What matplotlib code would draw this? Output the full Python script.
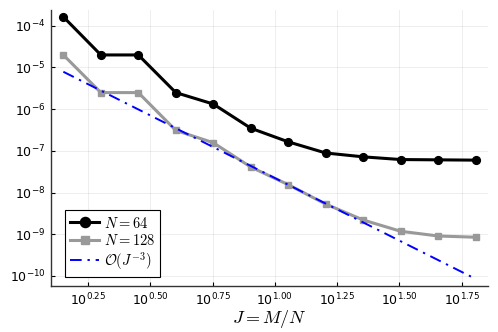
import matplotlib
matplotlib.use("Agg")
import matplotlib.pyplot as plt
import numpy as np
from matplotlib.ticker import FixedLocator, FuncFormatter, NullLocator

# J = M/N sample points
J = [1.414, 2.0, 2.828, 4.0, 5.657, 8.0, 11.31, 16.0, 22.63, 32.0, 45.25, 64.0]
err_64 = [1.64e-4, 2.0e-5, 2.0e-5, 2.5e-6, 1.33e-6, 3.5e-7, 1.65e-7, 8.9e-8,
          7.2e-8, 6.2e-8, 6.1e-8, 6.0e-8]
err_128 = [2.0e-5, 2.5e-6, 2.5e-6, 3.1e-7, 1.57e-7, 4.1e-8, 1.55e-8, 5.3e-9,
           2.2e-9, 1.18e-9, 9.1e-10, 8.5e-10]
# reference slope line, endpoints
ref_J = [1.414, 64.0]
ref_err = [7.9e-6, 8.5e-11]

xtick_exp = [0.25, 0.5, 0.75, 1.0, 1.25, 1.5, 1.75]
ytick_exp = [-10, -9, -8, -7, -6, -5, -4]

fig = plt.figure(figsize=(4.98, 3.32), dpi=100)
ax = fig.add_axes([0.1024, 0.1386, 0.8776, 0.8314])

ax.plot(J, err_64, color='black', lw=2.2, marker='o', ms=5.6, label=r'$N = 64$')
ax.plot(J, err_128, color='#999999', lw=2.2, marker='s', ms=4.8,
        label=r'$N = 128$')
ax.plot(ref_J, ref_err, color='blue', lw=1.4, dashes=(6, 3, 1.2, 3),
        label=r'$\mathcal{O}(J^{-3})$')

ax.set_xscale('log')
ax.set_yscale('log')
ax.set_xlim(10**0.1008, 10**1.856)
ax.set_ylim(10**-10.24, 10**-3.62)

ax.xaxis.set_major_locator(FixedLocator([10**e for e in xtick_exp]))
ax.xaxis.set_minor_locator(NullLocator())
ax.xaxis.set_major_formatter(FuncFormatter(
    lambda v, p: r'$10^{%.2f}$' % np.log10(v)))
ax.yaxis.set_major_locator(FixedLocator([10.0**e for e in ytick_exp]))
ax.yaxis.set_minor_locator(NullLocator())
ax.yaxis.set_major_formatter(FuncFormatter(
    lambda v, p: r'$10^{%d}$' % round(np.log10(v))))

ax.tick_params(direction='in', length=3, width=0.8, labelsize=9, pad=4)
ax.grid(True, color='black', alpha=0.08, lw=0.6)
ax.spines['top'].set_visible(False)
ax.spines['right'].set_visible(False)
for s in ['left', 'bottom']:
    ax.spines[s].set_linewidth(1.0)
    ax.spines[s].set_color('#333333')

xl = ax.set_xlabel(r'$J = M/N$', fontsize=13, labelpad=0)
xl.set_math_fontfamily('cm')

leg = ax.legend(loc='lower left', bbox_to_anchor=(0.032, 0.033), fontsize=10.5,
                fancybox=False, edgecolor='black', framealpha=1,
                handlelength=2.0, borderpad=0.35, labelspacing=0.15,
                handletextpad=0.3, borderaxespad=0, markerscale=1.3)
leg.get_frame().set_linewidth(0.8)
for t in leg.get_texts():
    t.set_math_fontfamily('cm')

fig.savefig('out.png', dpi=100)
